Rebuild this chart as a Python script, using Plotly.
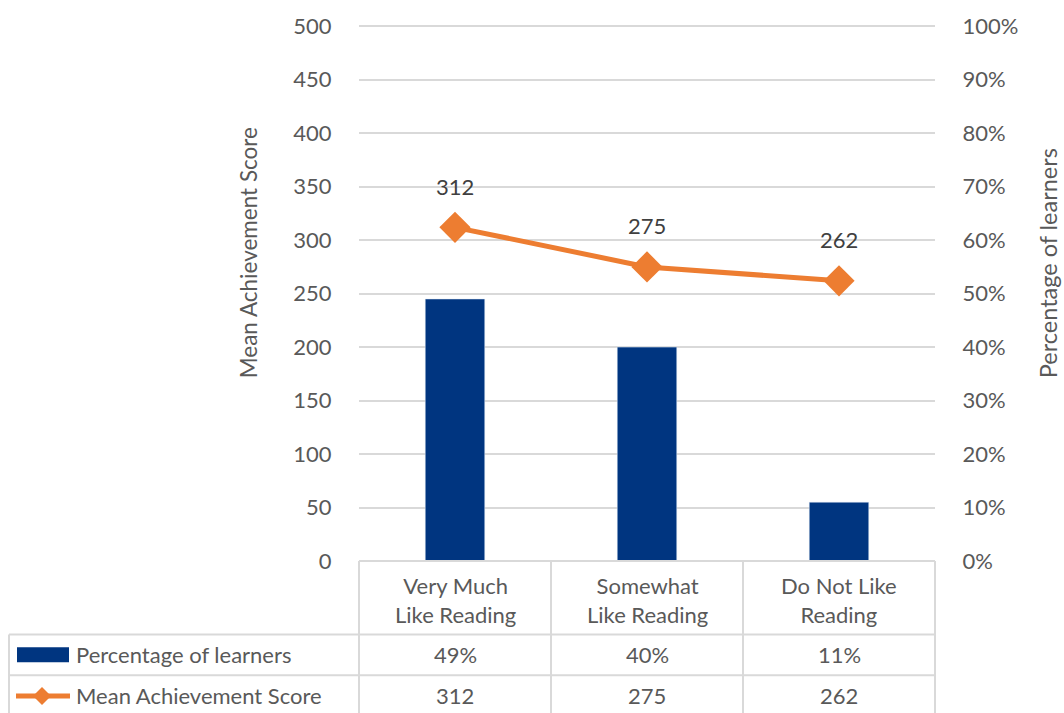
import plotly.graph_objects as go

categories = ["Very Much<br>Like Reading", "Somewhat<br>Like Reading", "Do Not Like<br>Reading"]
pct_learners = [49, 40, 11]
mean_score = [312, 275, 262]
left_ticks = [0, 50, 100, 150, 200, 250, 300, 350, 400, 450, 500]
right_ticks = [0, 10, 20, 30, 40, 50, 60, 70, 80, 90, 100]
series_names = ["Percentage of learners", "Mean Achievement Score"]

W, H = 1064, 713
L, R, T, B = 359, 935, 18, 561
BLUE = "#003580"
ORANGE = "#ED7D31"
GRID = "#D9D9D9"
TXT = "#595959"
FONT = "Lato"
FS = 22

def px(x):
    return (x - L) / (R - L)

def py(y):
    return (B - y) / (B - T)

fig = go.Figure()
xs = [0, 1, 2]
fig.add_trace(go.Bar(x=xs, y=pct_learners, yaxis="y2", marker_color=BLUE,
                     width=0.31, name=series_names[0], showlegend=False))
fig.add_trace(go.Scatter(x=xs, y=mean_score, yaxis="y", mode="lines+markers",
                         line=dict(color=ORANGE, width=5),
                         marker=dict(symbol="diamond", size=24, color=ORANGE),
                         name=series_names[1], showlegend=False))

def ann(x, y, text, xanchor="center", angle=0, color=TXT, size=FS):
    return dict(x=px(x), y=py(y), xref="paper", yref="paper", text=text, showarrow=False,
                xanchor=xanchor, yanchor="middle", textangle=angle,
                font=dict(family=FONT, size=size, color=color))

annotations = []
for i, v in enumerate(mean_score):
    annotations.append(dict(x=i, y=v, xref="x", yref="y", text=str(v), showarrow=False,
                            xanchor="center", yanchor="middle", yshift=41,
                            font=dict(family=FONT, size=FS, color="#404040")))

# axis titles
annotations.append(ann(248, 251, "Mean Achievement Score", angle=-90, size=22.5))
annotations.append(ann(1048, 261, "Percentage of learners", angle=-90, size=23.5))

# data table text
col_centers = [455, 647, 839]
for i, c in enumerate(categories):
    annotations.append(ann(col_centers[i], 600, c))
    annotations.append(ann(col_centers[i], 655, f"{pct_learners[i]}%"))
    annotations.append(ann(col_centers[i], 696, str(mean_score[i])))
annotations.append(ann(74, 655, series_names[0], xanchor="left"))
annotations.append(ann(74, 696, series_names[1], xanchor="left"))

shapes = []
def line(x0, y0, x1, y1, color=GRID, width=2):
    shapes.append(dict(type="line", xref="paper", yref="paper", x0=px(x0), y0=py(y0),
                       x1=px(x1), y1=py(y1), line=dict(color=color, width=width)))

line(L, B, R, B)
line(9, 635, R, 635)
line(9, 676, R, 676)
line(9, 716, R, 716)
for x in [L, 551, 743, R]:
    line(x, B, x, 716)
line(9, 635, 9, 716)

# legend keys
shapes.append(dict(type="rect", xref="paper", yref="paper", x0=px(17), x1=px(69), y0=py(648), y1=py(663),
                   fillcolor=BLUE, line=dict(width=0)))
line(16, 697, 70, 697, color=ORANGE, width=5)
cx, cy, d = 42, 697, 9
shapes.append(dict(type="path", xref="paper", yref="paper",
                   path=f"M {px(cx-d)},{py(cy)} L {px(cx)},{py(cy-d)} L {px(cx+d)},{py(cy)} L {px(cx)},{py(cy+d)} Z",
                   fillcolor=ORANGE, line=dict(width=0)))

fig.update_layout(
    width=W, height=H,
    margin=dict(l=L, r=W - R, t=T, b=H - B),
    paper_bgcolor="white", plot_bgcolor="white",
    font=dict(family=FONT, size=FS, color=TXT),
    xaxis=dict(range=[-0.5, 2.5], showticklabels=False, showgrid=False, zeroline=False,
               showline=False, fixedrange=True),
    yaxis=dict(range=[0, 504], tickvals=left_ticks, showgrid=True, gridcolor=GRID, gridwidth=2,
               zeroline=False, showline=False, ticks="outside", ticklen=0, ticklabelstandoff=22,
               tickfont=dict(family=FONT, size=FS, color=TXT)),
    yaxis2=dict(range=[0, 100.8], tickvals=right_ticks, ticktext=[f"{t}%" for t in right_ticks],
                overlaying="y", side="right", showgrid=False, zeroline=False, showline=False,
                ticks="outside", ticklen=0, ticklabelstandoff=22,
                tickfont=dict(family=FONT, size=FS, color=TXT)),
    annotations=annotations,
    shapes=shapes,
    showlegend=False,
)

fig.write_html("out.html", config={"displayModeBar": False},
               post_script="document.body.style.margin='0';document.body.style.overflow='hidden';")
